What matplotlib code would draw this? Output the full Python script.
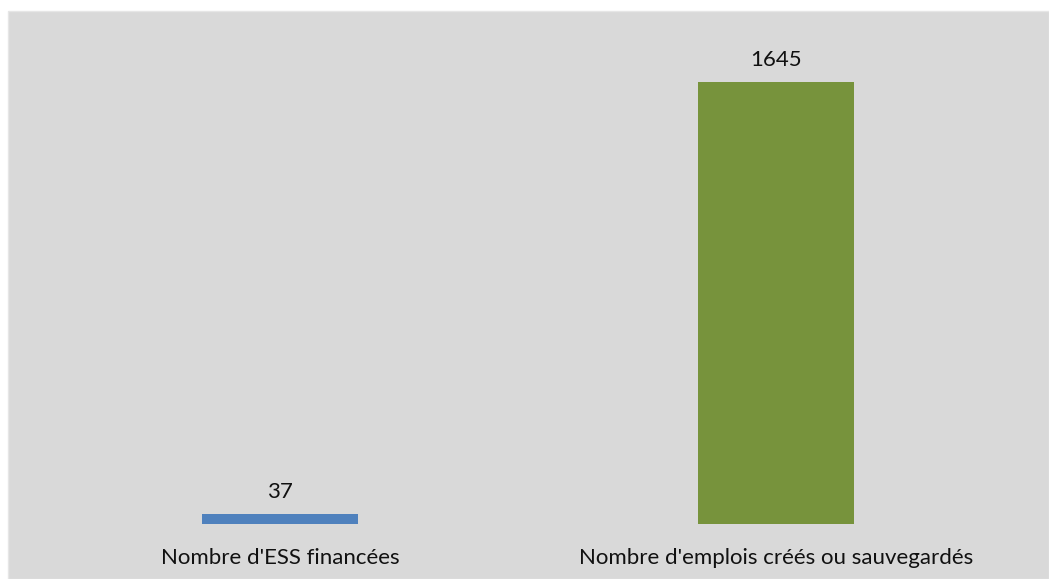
import matplotlib
matplotlib.use("Agg")
import matplotlib.pyplot as plt
from matplotlib.patches import Rectangle

categories = ["Nombre d'ESS financées", "Nombre d'emplois créés ou sauvegardés"]
values = [37, 1645]
colors = ["#4F81BD", "#77933C"]

W, H = 1049, 579
fig = plt.figure(figsize=(W / 100, H / 100), dpi=100)
fig.patch.set_facecolor("white")
bg = Rectangle((8 / W, 0), 1 - 8 / W, (H - 11) / H,
               transform=fig.transFigure, facecolor="#D9D9D9",
               edgecolor="#E6E6E6", linewidth=1, zorder=-10)
fig.patches.append(bg)

ax = fig.add_axes([32 / W, 55 / H, 992 / W, 504 / H])
ax.set_zorder(5)
ax.set_facecolor("none")
x = list(range(len(categories)))
bars = ax.bar(x, values, width=0.315, color=colors)
ax.set_xlim(-0.5, 1.5)
ax.set_ylim(0, 1876)
for xi, v in zip(x, values):
    ax.annotate(str(v), (xi, v), xytext=(0, 9), textcoords="offset points",
                ha="center", va="bottom", fontsize=16, family="Lato", color="#111111")
ax.set_xticks(x)
ax.set_xticklabels(categories, fontsize=16, family="Lato", color="#111111")
ax.tick_params(axis="x", length=0, pad=17)
ax.set_yticks([])
for s in ax.spines.values():
    s.set_visible(False)

fig.savefig("out.png", dpi=100)
